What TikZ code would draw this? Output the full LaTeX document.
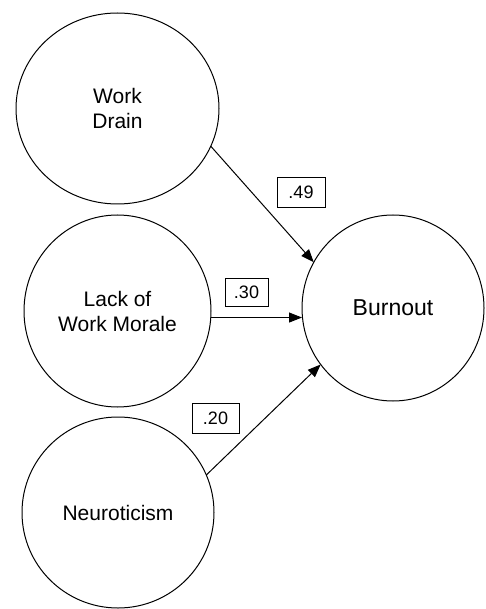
\documentclass[tikz,border=0pt]{standalone}
\usepackage{fontspec}
\setmainfont{Liberation Sans}
\usetikzlibrary{positioning,shapes.geometric,arrows.meta}

\begin{document}
\begin{tikzpicture}[x=1pt,y=-1pt,>={Triangle[length=13pt,width=10pt]},
    latent/.style={draw,ellipse,inner sep=0pt,outer sep=0pt,line width=1pt,align=center,font=\fontsize{21}{25}\selectfont},
    coef/.style={draw,line width=0.8pt,minimum width=46pt,minimum height=29pt,inner sep=0pt,font=\fontsize{18}{20}\selectfont}]
    \useasboundingbox (0,0) rectangle (485,609);

    % predictors
    \node[latent,minimum width=203pt,minimum height=191pt] (wd) at (117.5,108.5) {Work\\Drain};
    \node[latent,minimum width=187pt,minimum height=192pt] (lk) at (117.5,311) {Lack of\\Work Morale};
    \node[latent,minimum width=192pt,minimum height=191pt] (nr) at (118,512.5) {Neuroticism};

    % outcome
    \node[latent,minimum width=182pt,minimum height=186pt,font=\fontsize{23}{27}\selectfont] (bo) at (393,308) {Burnout};

    % paths
    \draw[->,line width=1pt] (wd.-22) -- (bo.150);
    \draw[->,line width=1pt] (lk.-4) -- (lk.-4 -| bo.west);
    \draw[->,line width=1pt] (nr.23) -- (bo.218);

    % coefficients
    \node[coef,minimum width=48pt,minimum height=30pt] (c49) at (301,192) {.49};
    \node[coef,minimum width=43pt,minimum height=28pt] (c30) at (246.5,292) {.30};
    \node[coef,minimum width=47pt,minimum height=30pt] (c20) at (215.5,418) {.20};
\end{tikzpicture}
\end{document}
